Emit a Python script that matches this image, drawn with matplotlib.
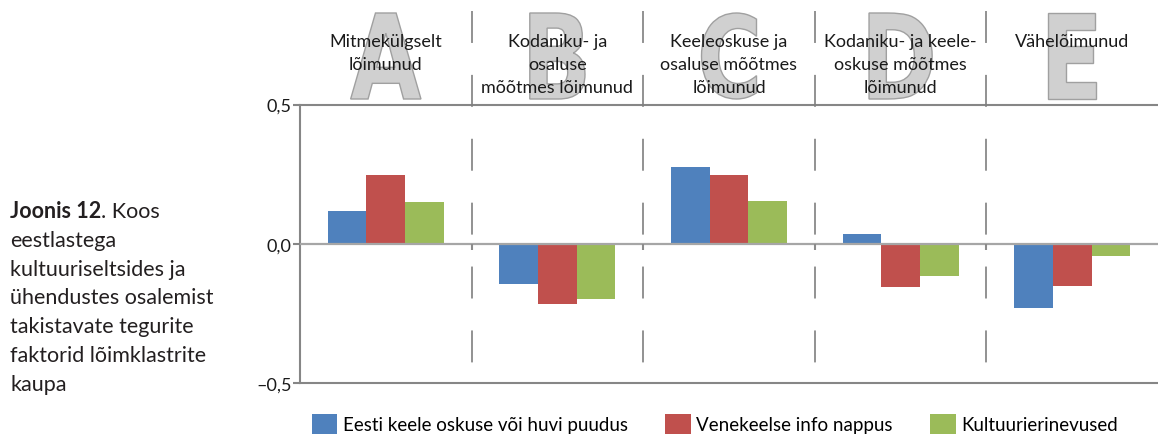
import numpy as np
import matplotlib
matplotlib.use("Agg")
import matplotlib.pyplot as plt
from matplotlib.textpath import TextPath
from matplotlib.patches import PathPatch
from matplotlib.font_manager import FontProperties
from matplotlib.transforms import Affine2D, blended_transform_factory
from matplotlib.lines import Line2D

plt.rcParams["font.family"] = ["Lato", "DejaVu Sans"]
plt.rcParams["lines.scale_dashes"] = False

# data
categories = [
    "Mitmekülgselt\nlõimunud",
    "Kodaniku- ja\nosaluse\nmõõtmes lõimunud",
    "Keeleoskuse ja\nosaluse mõõtmes\nlõimunud",
    "Kodaniku- ja keele-\noskuse mõõtmes\nlõimunud",
    "Vähelõimunud",
]
letters = ["A", "B", "C", "D", "E"]
series = ["Eesti keele oskuse või huvi puudus", "Venekeelse info nappus", "Kultuurierinevused"]
keel = [0.118, -0.146, 0.276, 0.035, -0.232]
info = [0.247, -0.218, 0.247, -0.157, -0.153]
kultuur = [0.149, -0.200, 0.153, -0.117, -0.045]
yticks = [-0.5, 0.0, 0.5]
yticklabels = ["–0,5", "0,0", "0,5"]
caption_bold = "Joonis 12"
caption_lines = [". Koos", "eestlastega", "kultuuriseltsides ja", "ühendustes osalemist",
                 "takistavate tegurite", "faktorid lõimklastrite", "kaupa"]

colors = ["#4f81bd", "#c0504d", "#9bbb59"]
W, H = 1158, 435
fig = plt.figure(figsize=(W / 100, H / 100), dpi=100)
ax = fig.add_axes([300 / W, (H - 384) / H, 858 / W, (384 - 105.5) / H])

x = np.arange(len(categories))
bw = 0.225
bars = []
for k, vals in enumerate([keel, info, kultuur]):
    bars.append(ax.bar(x + (k - 1) * bw, vals, bw, color=colors[k], label=series[k], zorder=2))

ax.set_xlim(-0.5, len(categories) - 0.5)
ax.set_ylim(-0.5, 0.5)
ax.axhline(0, color="#a6a6a6", lw=1.6, zorder=3)
ax.vlines(x[:-1] + 0.5, -0.022, 0, color="#8c8c8c", lw=1.5, zorder=3)
ax.set_xticks([])
ax.set_yticks(yticks, yticklabels)
ax.tick_params(axis="y", length=5, width=1.5, color="#868686", labelsize=13,
               pad=1, labelcolor="#1a1a1a")
for side in ["left", "top", "bottom"]:
    ax.spines[side].set_color("#868686")
    ax.spines[side].set_linewidth(1.5)
ax.spines["right"].set_visible(False)

blend = blended_transform_factory(ax.transData, fig.transFigure)

# dashed separators reaching up into the header
for b in x[:-1] + 0.5:
    fig.add_artist(Line2D([b, b], [(H - 12) / H, (H - 384) / H], transform=blend,
                          color="#7f7f7f", lw=1.2, dashes=(23, 23), zorder=2))

# big letters behind the headings
fp = FontProperties(family="DejaVu Sans", weight="bold")
top_px, bot_px = 14, 100
for i, L in enumerate(letters):
    tp = TextPath((0, 0), L, size=100, prop=fp)
    ext = tp.get_extents()
    hgt = bot_px - top_px
    wid = hgt * ext.width / ext.height * 0.78
    cx = ax.transData.transform((i, 0))[0]
    tr = (Affine2D().translate(-ext.x0, -ext.y0)
          .scale(wid / ext.width / W, hgt / ext.height / H)
          .translate((cx - wid / 2) / W, (H - bot_px) / H))
    fig.add_artist(PathPatch(tr.transform_path(tp), transform=fig.transFigure,
                             facecolor="#d0d0d0", edgecolor="#a0a0a0", lw=1, zorder=1))

for i, cat in enumerate(categories):
    for j, line in enumerate(cat.split("\n")):
        fig.text(i, (H - (47 + 23 * j)) / H, line, transform=blend, ha="center",
                 va="baseline", fontsize=13, color="#1a1a1a", zorder=4)

# caption on the left
cap_kw = dict(fontsize=15.5, color="#231f20", va="baseline")
tb = fig.text(10 / W, (H - 218) / H, caption_bold, weight="bold", **cap_kw)
r = fig.canvas.get_renderer()
x1 = tb.get_window_extent(r).x1
for j, line in enumerate(caption_lines):
    xx = x1 / W if j == 0 else 10 / W
    fig.text(xx, (H - (218 + 28.8 * j)) / H, line, weight="normal", **cap_kw)

fig.legend(bars, series, loc="lower left", bbox_to_anchor=(312 / W, 0), ncol=3,
           frameon=False, fontsize=13.5, handlelength=1.35, handleheight=1.25,
           handletextpad=0.3, columnspacing=2.0, borderpad=0, borderaxespad=0)

fig.savefig("out.png", dpi=100)
